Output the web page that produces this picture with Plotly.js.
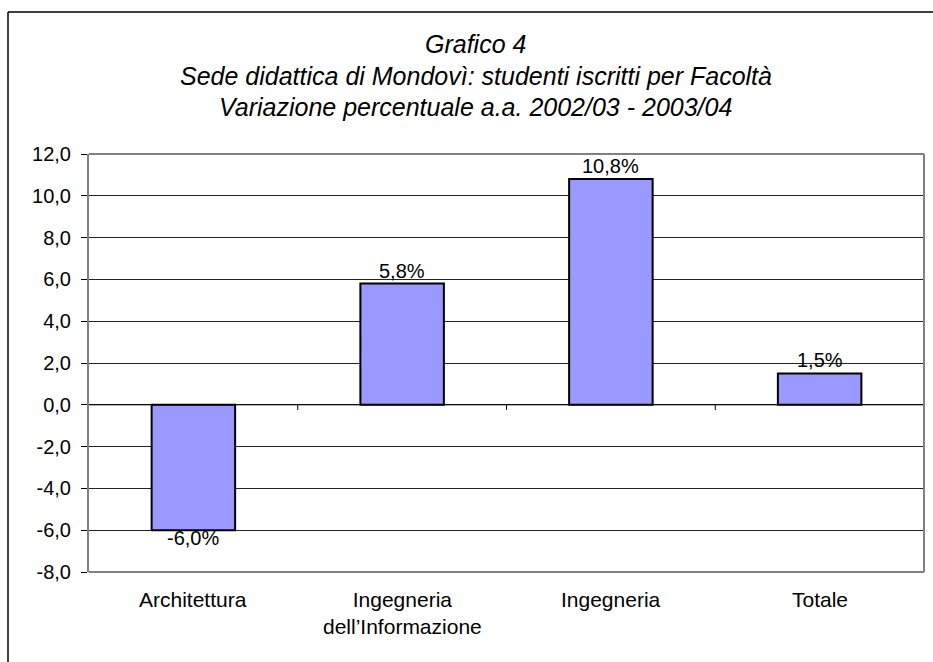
<!DOCTYPE html>
<html>
<head>
<meta charset="utf-8">
<script src="https://cdn.plot.ly/plotly-3.0.1.min.js"></script>
<style>
html,body{margin:0;padding:0;background:#fff;}
#chart{width:933px;height:662px;}
</style>
</head>
<body>
<div id="chart"></div>
<script>
const categories = ["Architettura", "Ingegneria<br>dell\u2019Informazione", "Ingegneria", "Totale"];
const values = [-6.0, 5.8, 10.8, 1.5];
const valueLabels = ["-6,0%", "5,8%", "10,8%", "1,5%"];
const tickVals = [-8, -6, -4, -2, 0, 2, 4, 6, 8, 10, 12];
const tickLabels = ["-8,0", "-6,0", "-4,0", "-2,0", "0,0", "2,0", "4,0", "6,0", "8,0", "10,0", "12,0"];
const titleLines = ["Grafico 4", "Sede didattica di Mondovì: studenti iscritti per Facoltà", "Variazione percentuale a.a. 2002/03 - 2003/04"];

const FONT = "Liberation Sans, Arial, sans-serif";
const idx = categories.map((_, i) => i);

const trace = {
  type: "bar",
  x: idx,
  y: values,
  width: 0.4,
  marker: {color: "#9999FF", line: {color: "#000", width: 2}},
  hoverinfo: "skip"
};

const annotations = idx.map(i => ({
  x: i, y: values[i], xref: "x", yref: "y",
  text: valueLabels[i], showarrow: false,
  yanchor: "middle",
  yshift: values[i] >= 0 ? 13 : -8,
  font: {family: FONT, size: 20, color: "#000"}
}));

// category labels
idx.forEach(i => annotations.push({
  x: i, y: 0, xref: "x", yref: "paper",
  text: categories[i], showarrow: false, yanchor: "top", yshift: -14,
  font: {family: FONT, size: 21, color: "#000"}, align: "center"
}));

// title lines
titleLines.forEach((t, k) => annotations.push({
  x: 0.5, xref: "paper", y: 1, yref: "paper",
  text: "<i>" + t + "</i>", showarrow: false, yanchor: "middle",
  yshift: 110 - k * 31.5,
  xanchor: "center", xshift: -31,
  font: {family: FONT, size: 25, color: "#000"}
}));

// x ticks at category boundaries on the zero line
const shapes = [];
[0.5, 1.5, 2.5].forEach(b => shapes.push({
  type: "line", xref: "x", yref: "y", x0: b, x1: b, y0: 0, y1: -0.25,
  line: {color: "#000", width: 1}
}));
// zero axis line
shapes.push({type: "line", xref: "paper", yref: "y", x0: 0, x1: 1, y0: 0, y1: 0, line: {color: "#000", width: 1}});
// plot border top/right/bottom
shapes.push({type: "line", xref: "paper", yref: "paper", x0: 0, x1: 1, y0: 1, y1: 1, line: {color: "#808080", width: 2}});
shapes.push({type: "line", xref: "paper", yref: "paper", x0: 1, x1: 1, y0: 0, y1: 1, line: {color: "#808080", width: 2}});
shapes.push({type: "line", xref: "paper", yref: "paper", x0: 0, x1: 1, y0: 0, y1: 0, line: {color: "#808080", width: 2}});
// outer frame (left and top)
const pw = 835, ph = 418;
shapes.push({type: "line", xref: "paper", yref: "paper", x0: (8 - 89) / pw, x1: (940 - 89) / pw, y0: (572 - 12) / ph, y1: (572 - 12) / ph, line: {color: "#000", width: 1.5}});
shapes.push({type: "line", xref: "paper", yref: "paper", x0: (8 - 89) / pw, x1: (8 - 89) / pw, y0: (572 - 12) / ph, y1: (572 - 670) / ph, line: {color: "#000", width: 1.5}});

const layout = {
  width: 933, height: 662,
  margin: {l: 89, r: 9, t: 154, b: 90},
  paper_bgcolor: "#fff", plot_bgcolor: "#fff",
  showlegend: false,
  xaxis: {
    range: [-0.5, 3.5], showticklabels: false, showgrid: false, zeroline: false,
    ticks: "", fixedrange: true
  },
  yaxis: {
    range: [-8, 12], tickvals: tickVals, ticktext: tickLabels,
    showgrid: true, gridcolor: "#222", gridwidth: 1, zeroline: false,
    showline: true, linecolor: "#808080", linewidth: 2,
    ticks: "outside", ticklen: 6, tickcolor: "#000", ticklabelstandoff: 6,
    tickfont: {family: FONT, size: 20, color: "#000"}, fixedrange: true
  },
  annotations: annotations,
  shapes: shapes
};

Plotly.newPlot("chart", [trace], layout, {staticPlot: true, displayModeBar: false});
</script>
</body>
</html>
